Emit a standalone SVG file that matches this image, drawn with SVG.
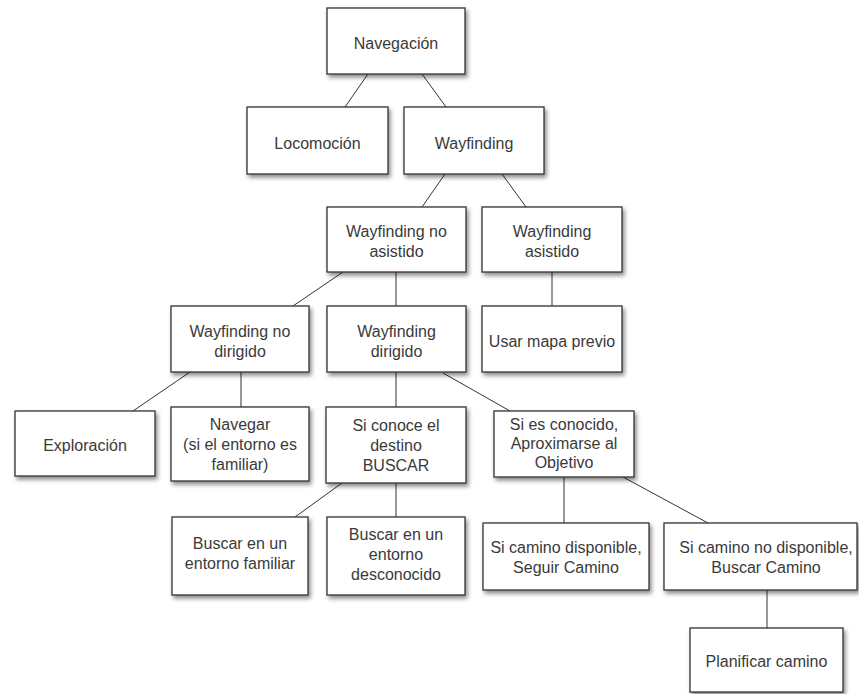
<svg xmlns="http://www.w3.org/2000/svg" width="859" height="694" viewBox="0 0 859 694">
<defs>
<filter id="sh" x="-10%" y="-10%" width="130%" height="140%">
<feDropShadow dx="2" dy="3" stdDeviation="2" flood-color="#000" flood-opacity="0.45"/>
</filter>
<style>
.box{fill:#fff;stroke:#333;stroke-width:1.3;filter:url(#sh)}
.t{font-family:"Liberation Sans",Arial,sans-serif;font-size:16px;fill:#3a3a3a;text-anchor:middle}
.c line{stroke:#333;stroke-width:1}
</style>
</defs>
<rect width="859" height="694" fill="#fff"/>
<g class="c" id="connectors">
<line x1="368" y1="74" x2="345" y2="107"/>
<line x1="422" y1="74" x2="446" y2="107"/>
<line x1="445" y1="174" x2="422" y2="207"/>
<line x1="502" y1="174" x2="526" y2="207"/>
<line x1="343" y1="272" x2="293" y2="306"/>
<line x1="396" y1="272" x2="396" y2="306"/>
<line x1="552" y1="272" x2="552" y2="306"/>
<line x1="190" y1="372" x2="133" y2="411"/>
<line x1="241" y1="372" x2="241" y2="407"/>
<line x1="396" y1="372" x2="396" y2="407"/>
<line x1="443" y1="373" x2="510" y2="411"/>
<line x1="342" y1="483" x2="295" y2="517"/>
<line x1="396" y1="483" x2="396" y2="517"/>
<line x1="564" y1="477" x2="564" y2="523"/>
<line x1="623" y1="477" x2="708" y2="523"/>
<line x1="767" y1="590" x2="767" y2="628"/>
</g>
<g id="navegacion"><rect class="box" x="327" y="8" width="138" height="66"/><text class="t" x="396" y="49">Navegación</text></g>
<g id="locomocion"><rect class="box" x="247" y="107" width="141" height="67"/><text class="t" x="317.5" y="148.5">Locomoción</text></g>
<g id="wayfinding"><rect class="box" x="404" y="107" width="140" height="67"/><text class="t" x="474" y="148.5">Wayfinding</text></g>
<g id="wf-no-asistido"><rect class="box" x="327" y="207" width="139" height="65"/><text class="t" x="396.5" y="237">Wayfinding no</text><text class="t" x="396.5" y="257">asistido</text></g>
<g id="wf-asistido"><rect class="box" x="482" y="207" width="140" height="65"/><text class="t" x="552" y="237">Wayfinding</text><text class="t" x="552" y="257">asistido</text></g>
<g id="wf-no-dirigido"><rect class="box" x="171" y="306" width="138" height="66"/><text class="t" x="240" y="336.5">Wayfinding no</text><text class="t" x="240" y="356.5">dirigido</text></g>
<g id="wf-dirigido"><rect class="box" x="327" y="306" width="139" height="66"/><text class="t" x="396.5" y="336.5">Wayfinding</text><text class="t" x="396.5" y="356.5">dirigido</text></g>
<g id="usar-mapa"><rect class="box" x="482" y="306" width="140" height="66"/><text class="t" x="552" y="347">Usar mapa previo</text></g>
<g id="exploracion"><rect class="box" x="15" y="411" width="140" height="65"/><text class="t" x="85" y="450.5">Exploración</text></g>
<g id="navegar"><rect class="box" x="171" y="407" width="138" height="74"/><text class="t" x="240" y="430">Navegar</text><text class="t" x="240" y="450">(si el entorno es</text><text class="t" x="240" y="470">familiar)</text></g>
<g id="si-conoce"><rect class="box" x="326" y="407" width="140" height="76"/><text class="t" x="396" y="431">Si conoce el</text><text class="t" x="396" y="451">destino</text><text class="t" x="396" y="471">BUSCAR</text></g>
<g id="si-es-conocido"><rect class="box" x="494" y="411" width="140" height="66"/><text class="t" x="564" y="430">Si es conocido,</text><text class="t" x="564" y="449">Aproximarse al</text><text class="t" x="564" y="468">Objetivo</text></g>
<g id="buscar-familiar"><rect class="box" x="172" y="517" width="136" height="78"/><text class="t" x="240" y="549">Buscar en un</text><text class="t" x="240" y="569">entorno familiar</text></g>
<g id="buscar-desconocido"><rect class="box" x="327" y="517" width="138" height="78"/><text class="t" x="396" y="540">Buscar en un</text><text class="t" x="396" y="560">entorno</text><text class="t" x="396" y="580">desconocido</text></g>
<g id="camino-disponible"><rect class="box" x="483" y="523" width="166" height="67"/><text class="t" x="566" y="553">Si camino disponible,</text><text class="t" x="566" y="573">Seguir Camino</text></g>
<g id="camino-no-disponible"><rect class="box" x="664" y="523" width="193" height="67"/><text class="t" x="766" y="553">Si camino no disponible,</text><text class="t" x="766" y="573">Buscar Camino</text></g>
<g id="planificar"><rect class="box" x="690" y="628" width="153" height="64"/><text class="t" x="766.5" y="667">Planificar camino</text></g>
</svg>
